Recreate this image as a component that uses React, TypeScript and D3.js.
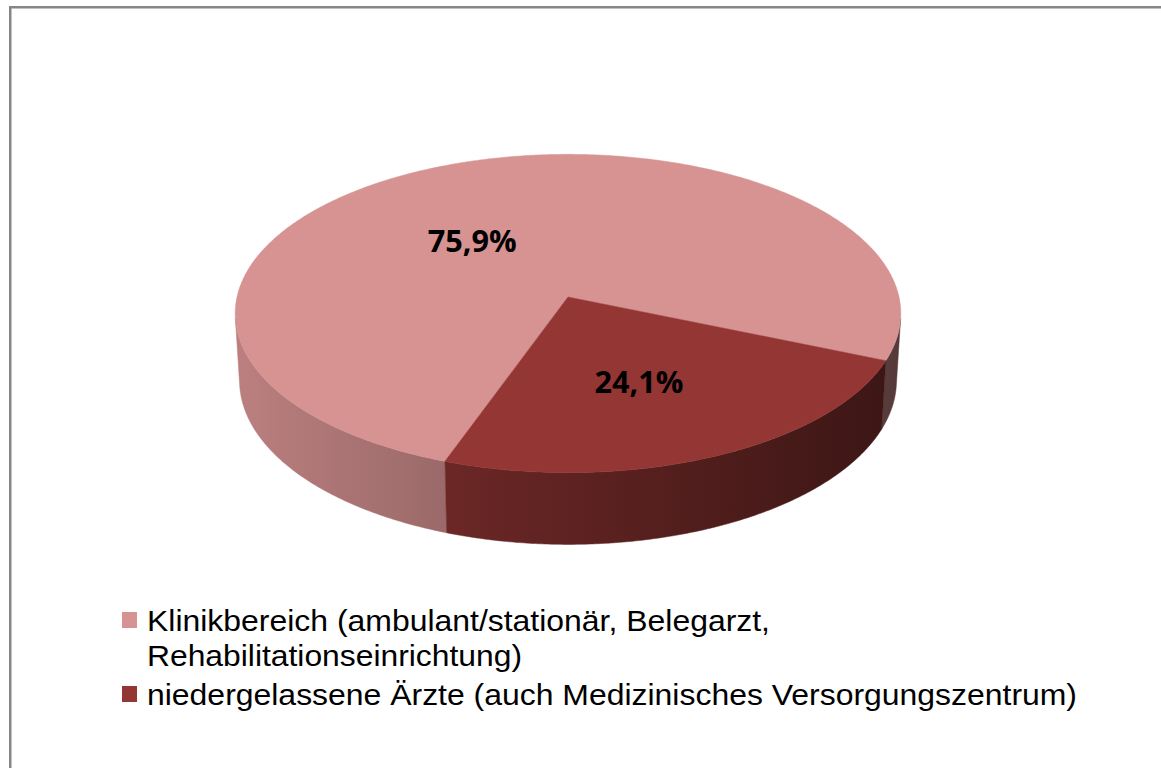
import React from "react";
import * as d3 from "d3";

const categories = [
  "Klinikbereich (ambulant/stationär, Belegarzt, Rehabilitationseinrichtung)",
  "niedergelassene Ärzte (auch Medizinisches Versorgungszentrum)",
];
const legendLines = [
  ["Klinikbereich (ambulant/stationär, Belegarzt,", "Rehabilitationseinrichtung)"],
  ["niedergelassene Ärzte (auch Medizinisches Versorgungszentrum)"],
];
const legendWidths = [[623, 375], [930]];
const values = [75.9, 24.1];
const valueLabels = ["75,9%", "24,1%"];
const colors = ["#D79292", "#943634"];
const labelOffsets = [
  [-20, 37],
  [-14, 4],
];

// 3D projection parameters
const CX = 568;
const CY = 297;
const S = 331;
const ELEV = (28.4 * Math.PI) / 180;
const DIST = 8.49;
const H = 0.232;
const ROTATION = (199.6 * Math.PI) / 180;

function proj(X: number, Y: number, Z: number): [number, number] {
  const up = Y * Math.cos(ELEV) - Z * Math.sin(ELEV);
  const d = Y * Math.sin(ELEV) + Z * Math.cos(ELEV);
  const k = DIST / (DIST - d);
  return [CX + S * X * k, CY - S * up * k];
}
function rim(phi: number, Y: number, r = 1): [number, number] {
  return proj(r * Math.sin(phi), Y, -r * Math.cos(phi));
}
function samples(a: number, b: number): number[] {
  const n = Math.max(2, Math.ceil(Math.abs(b - a) / (Math.PI / 360)));
  return d3.range(n + 1).map((i) => a + ((b - a) * i) / n);
}

const line = d3.line<[number, number]>().x((p) => p[0]).y((p) => p[1]);

export default function App() {
  const pie = d3
    .pie<number>()
    .sort(null)
    .value((d) => d)
    .startAngle(ROTATION)
    .endAngle(ROTATION + 2 * Math.PI);
  const arcs = pie(values);

  const phiV = Math.acos(-1 / (DIST * Math.cos(ELEV)));
  const visStart = phiV;
  const visEnd = 2 * Math.PI - phiV;

  const xLeft = CX - S;
  const xRight = CX + S;

  const scaleColor = (c: string, f: number) => {
    const rgb = d3.rgb(c);
    return d3.rgb(rgb.r * f, rgb.g * f, rgb.b * f).formatHex();
  };

  const sides: { d: string; i: number }[] = [];
  arcs.forEach((a, i) => {
    for (let k = 0; k < 3; k++) {
      const s = Math.max(a.startAngle, visStart + k * 2 * Math.PI);
      const e = Math.min(a.endAngle, visEnd + k * 2 * Math.PI);
      if (e > s) {
        const top = samples(s, e).map((p) => rim(p, 0));
        const bot = samples(e, s).map((p) => rim(p, -H));
        sides.push({ d: line([...top, ...bot])! + "Z", i });
      }
    }
  });

  const center = proj(0, 0, 0);
  const tops = arcs.map((a, i) => {
    const pts = [center, ...samples(a.startAngle, a.endAngle).map((p) => rim(p, 0))];
    return { d: line(pts)! + "Z", i };
  });

  const labelPos = arcs.map((a, i) => {
    const mid = (a.startAngle + a.endAngle) / 2;
    const p = rim(mid, 0, 0.6);
    return [p[0] + labelOffsets[i][0], p[1] + labelOffsets[i][1]];
  });

  const legendTop = [631, 705];
  const lineGap = 35;

  return (
    <svg
      width={1161}
      height={768}
      style={{ position: "absolute", left: 0, top: 0, display: "block" }}
    >
      <defs>
        {colors.map((c, i) => (
          <linearGradient
            key={i}
            id={`side${i}`}
            gradientUnits="userSpaceOnUse"
            x1={xLeft}
            x2={xRight}
            y1={0}
            y2={0}
          >
            <stop offset="0" stopColor={scaleColor(c, 0.87)} />
            <stop offset="1" stopColor={scaleColor(c, 0.4)} />
          </linearGradient>
        ))}
      </defs>
      <rect x={0} y={0} width={1161} height={768} fill="#ffffff" />
      <rect
        x={10.25}
        y={7.25}
        width={1300}
        height={900}
        fill="#ffffff"
        stroke="#868686"
        strokeWidth={2.5}
      />
      {sides.map((s, j) => (
        <path key={"s" + j} d={s.d} fill={`url(#side${s.i})`} stroke={`url(#side${s.i})`} strokeWidth={0.5} />
      ))}
      {tops.map((t, j) => (
        <path key={"t" + j} d={t.d} fill={colors[t.i]} stroke={colors[t.i]} strokeWidth={0.5} />
      ))}
      {labelPos.map((p, i) => (
        <text
          key={"l" + i}
          x={p[0]}
          y={p[1]}
          textAnchor="middle"
          fontFamily="'Open Sans', sans-serif"
          fontWeight="bold"
          fontSize={30}
          textLength={89}
          lengthAdjust="spacingAndGlyphs"
          fill="#000000"
        >
          {valueLabels[i]}
        </text>
      ))}
      {categories.map((c, i) => (
        <g key={"lg" + i}>
          <rect
            x={122}
            y={legendTop[i] - 19}
            width={15}
            height={16}
            fill={colors[i]}
          />
          {legendLines[i].map((ln, j) => (
            <text
              key={j}
              x={147}
              y={legendTop[i] + j * lineGap}
              fontFamily="'Liberation Sans', Arial, sans-serif"
              fontSize={30}
              textLength={legendWidths[i][j]}
              lengthAdjust="spacingAndGlyphs"
              fill="#000000"
            >
              {ln}
            </text>
          ))}
        </g>
      ))}
    </svg>
  );
}
